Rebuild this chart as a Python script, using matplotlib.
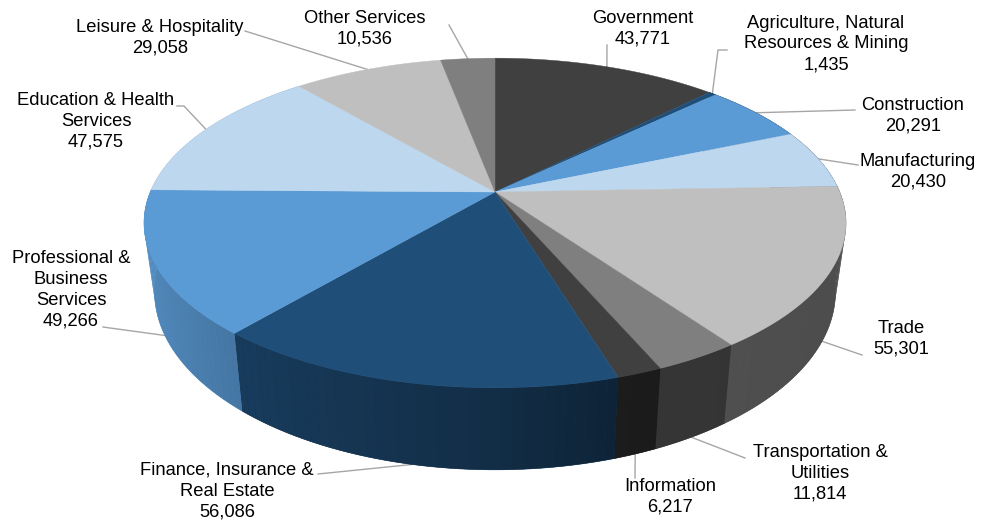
import numpy as np
import matplotlib
matplotlib.use('Agg')
import matplotlib.pyplot as plt
from matplotlib.collections import PolyCollection

plt.rcParams['font.family'] = ['Liberation Sans', 'DejaVu Sans']

# values, clockwise from the top
categories = ['Government', 'Agriculture, Natural\nResources & Mining', 'Construction', 'Manufacturing',
              'Trade', 'Transportation &\nUtilities', 'Information', 'Finance, Insurance &\nReal Estate',
              'Professional &\nBusiness\nServices', 'Education & Health\nServices',
              'Leisure & Hospitality', 'Other Services']
values = [43771, 1435, 20291, 20430, 55301, 11814, 6217, 56086, 49266, 47575, 29058, 10536]
colors = ['#404040', '#1f4e79', '#5b9bd5', '#bdd7ee', '#bfbfbf', '#7f7f7f',
          '#404040', '#1f4e79', '#5b9bd5', '#bdd7ee', '#bfbfbf', '#7f7f7f']

# label centre, and the points the leader line goes through before reaching the pie
label_pos = [(643, 29), (826, 44), (913, 116), (918, 172), (901, 339), (820, 473),
             (670, 497), (227, 491), (71, 290), (96, 121), (160, 38), (365, 29)]
label_elbows = [[(607, 45)], [(718, 50), (727, 50)], [(855, 110)], [(858, 165)], [(862, 355)],
                [(745, 458)], [(635, 478)], [(318, 474)], [(110, 328), (103, 327)], [(184, 106), (177, 106)],
                [(245, 31)], [(449, 25)]]

# pie geometry in pixels, the top face is a circle seen in perspective
cx, cy = 495, 192
a, b, k = 344.7, 159, 0.188
wall = 66.6
shrink = 0.97


def top_face(theta):
    u, v = np.sin(theta), -np.cos(theta)
    return cx + a * u / (1 - k * v), cy + b * v / (1 - k * v)


def wall_bottom(theta):
    x, y = top_face(theta)
    v = -np.cos(theta)
    return cx + (x - cx) * shrink, y + wall / (1 - k * v)


def shade(color, theta):
    f = np.interp(np.sin(theta), [-1, -0.7, 0.0, 0.35, 1], [0.9, 0.78, 0.58, 0.42, 0.4])
    return tuple(c * f for c in matplotlib.colors.to_rgb(color))


fig = plt.figure(figsize=(9.95, 5.23), dpi=100)
ax = fig.add_axes([0, 0, 1, 1])
ax.set_xlim(0, 995)
ax.set_ylim(523, 0)
ax.axis('off')

edges = np.cumsum([0] + values) / sum(values) * 2 * np.pi

# leader lines go under the pie
for i, (s, e) in enumerate(zip(edges[:-1], edges[1:])):
    mid = (s + e) / 2
    x0, y0 = wall_bottom(mid) if -np.cos(mid) > 0.2 else top_face(mid)
    pts = [(x0, y0)] + label_elbows[i]
    ax.plot([p[0] for p in pts], [p[1] for p in pts], color='#a6a6a6', lw=1, zorder=1)

# side wall: a plain piece under thin strips, so no white shows between the strips
for i, (s, e) in enumerate(zip(edges[:-1], edges[1:])):
    if np.cos((s + e) / 2) > 0.75:
        continue
    th = np.linspace(s, e, max(int((e - s) * 40), 2))
    xt, yt = top_face(th)
    xb, yb = wall_bottom(th)
    base = shade(colors[i], (s + e) / 2)
    ax.fill(np.r_[xt, xb[::-1]], np.r_[yt, yb[::-1]], color=base, lw=0.4, zorder=2)
    quads = []
    cols = []
    for j in range(len(th) - 1):
        quads.append([(xt[j], yt[j]), (xt[j + 1], yt[j + 1]), (xb[j + 1], yb[j + 1]), (xb[j], yb[j])])
        cols.append(shade(colors[i], (th[j] + th[j + 1]) / 2))
    ax.add_collection(PolyCollection(quads, facecolors=cols, edgecolors='none', linewidths=0, zorder=2.5))

# top face
for i, (s, e) in enumerate(zip(edges[:-1], edges[1:])):
    th = np.linspace(s, e, 120)
    x, y = top_face(th)
    ax.fill(np.r_[cx, x], np.r_[cy, y], color=colors[i], lw=0.3, zorder=3)

for i, name in enumerate(categories):
    ax.text(label_pos[i][0], label_pos[i][1], f'{name}\n{values[i]:,}', ha='center', va='center',
            fontsize=13.2, color='#000000', linespacing=1.3, zorder=4)

fig.savefig('out.png', dpi=100)
